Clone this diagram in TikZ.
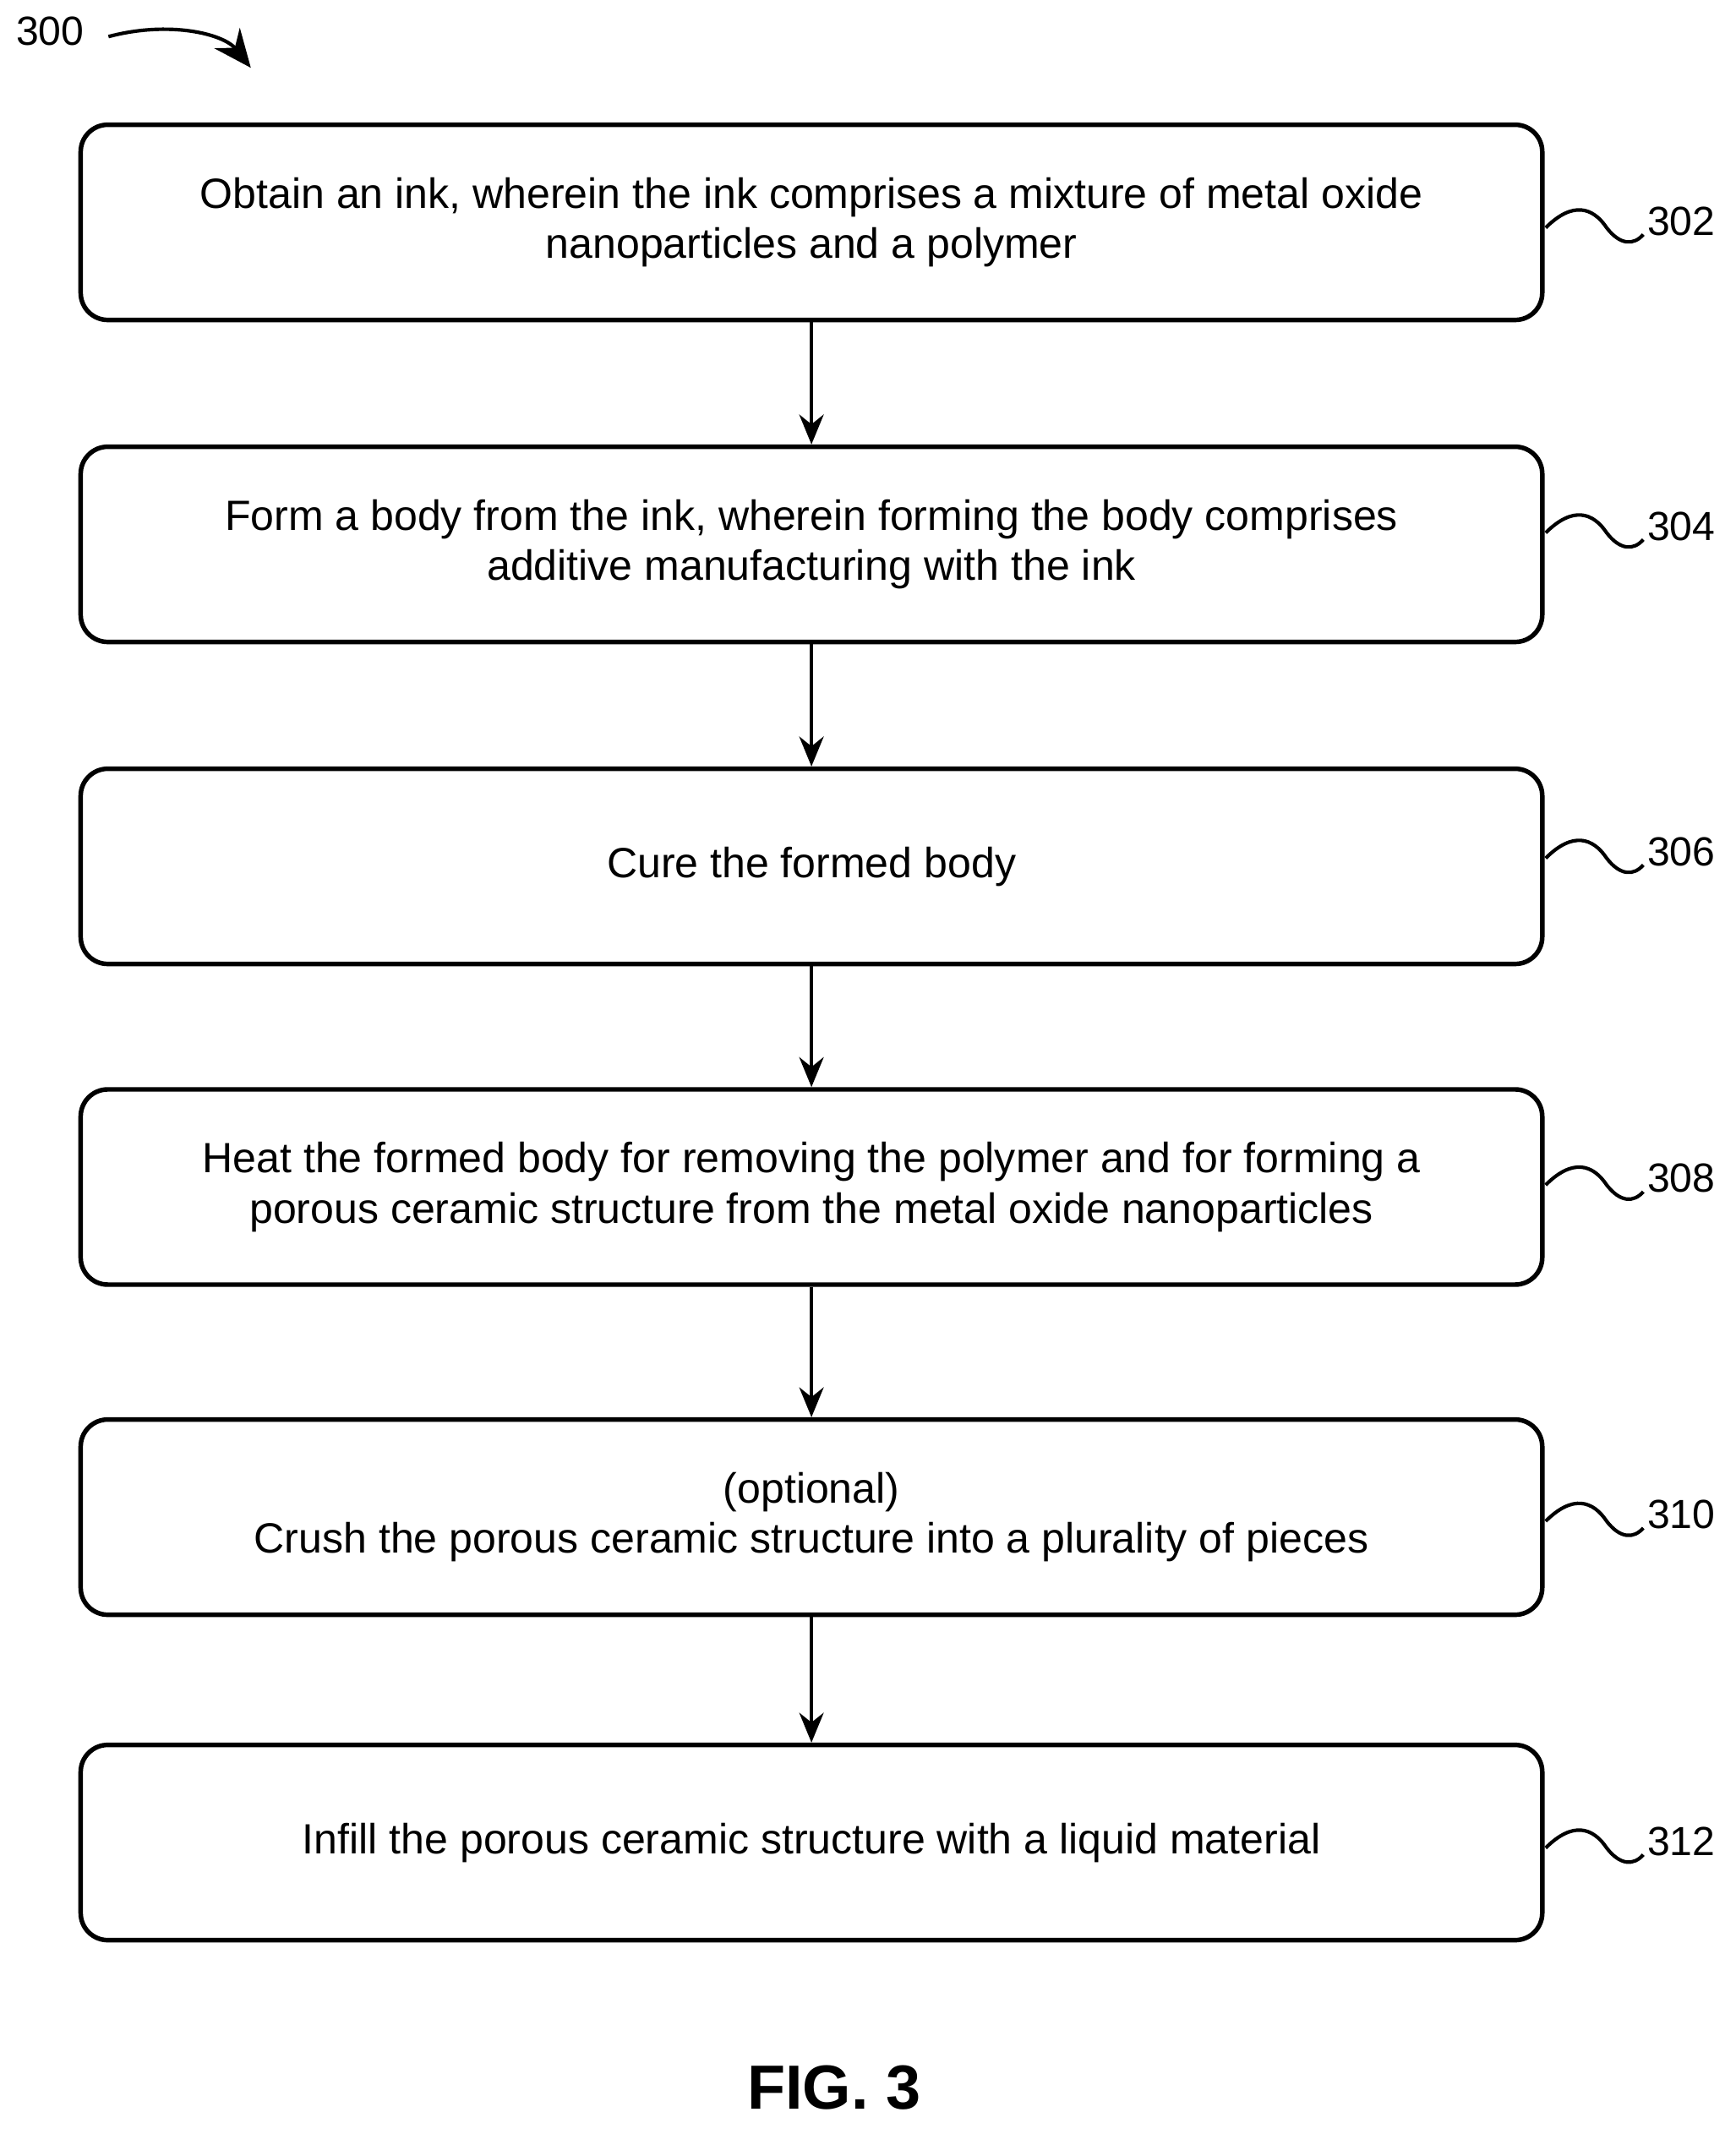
\documentclass[tikz,border=0pt]{standalone}
\usepackage{fontspec}
\setmainfont{Liberation Sans}
\usetikzlibrary{arrows.meta}
\tikzset{
	stepbox/.style={draw, line width=1.7pt, rounded corners=10pt, minimum width=539pt, minimum height=72pt, align=center, font=\fontsize{15.6}{18.5}\selectfont},
	flow/.style={-{Stealth[length=11pt,width=9pt]}, line width=1.3pt},
	tag/.style={anchor=west, font=\fontsize{15}{17}\selectfont},
	wave/.style={line width=1.3pt}
}
\begin{document}
\begin{tikzpicture}[x=0.5pt,y=-0.5pt]
		\useasboundingbox (0,0) rectangle (1280,1574);
		
		\node[anchor=center, font=\fontsize{15}{17}\selectfont] (n300) at (37,23) {300};
		\coordinate (a300) at (80,27);
		\coordinate (b300) at (185,50);
		\draw[flow, -{Stealth[length=14pt,width=12pt]}] (a300) .. controls (125,15) and (165,25) .. (b300);
		
		\node[stepbox] (s302) at (598.5,164) {Obtain an ink, wherein the ink comprises a mixture of metal oxide\\nanoparticles and a polymer};
		\node[stepbox] (s304) at (598.5,401.5) {Form a body from the ink, wherein forming the body comprises\\additive manufacturing with the ink};
		\node[stepbox] (s306) at (598.5,639) {Cure the formed body};
		\node[stepbox] (s308) at (598.5,875.5) {Heat the formed body for removing the polymer and for forming a\\porous ceramic structure from the metal oxide nanoparticles};
		\node[stepbox] (s310) at (598.5,1119) {(optional)\\Crush the porous ceramic structure into a plurality of pieces};
		\node[stepbox] (s312) at (598.5,1359) {Infill the porous ceramic structure with a liquid material};
		
		\draw[flow] (s302) -- (s304);
		\draw[flow] (s304) -- (s306);
		\draw[flow] (s306) -- (s308);
		\draw[flow] (s308) -- (s310);
		\draw[flow] (s310) -- (s312);
		
		\foreach \s/\y in {302/163, 304/388, 306/628, 308/869, 310/1117, 312/1358}{
			\draw[wave] (1140,\y+5) .. controls (1160,\y-15) and (1175,\y-10) .. (1185,\y+5) .. controls (1195,\y+18) and (1205,\y+18) .. (1212,\y+10);
			\node[tag] (t\s) at (1208,\y) {\s};
		}
		
		\node[font=\bfseries\fontsize{23}{26}\selectfont] (fig) at (615,1540) {FIG. 3};
\end{tikzpicture}
\end{document}
